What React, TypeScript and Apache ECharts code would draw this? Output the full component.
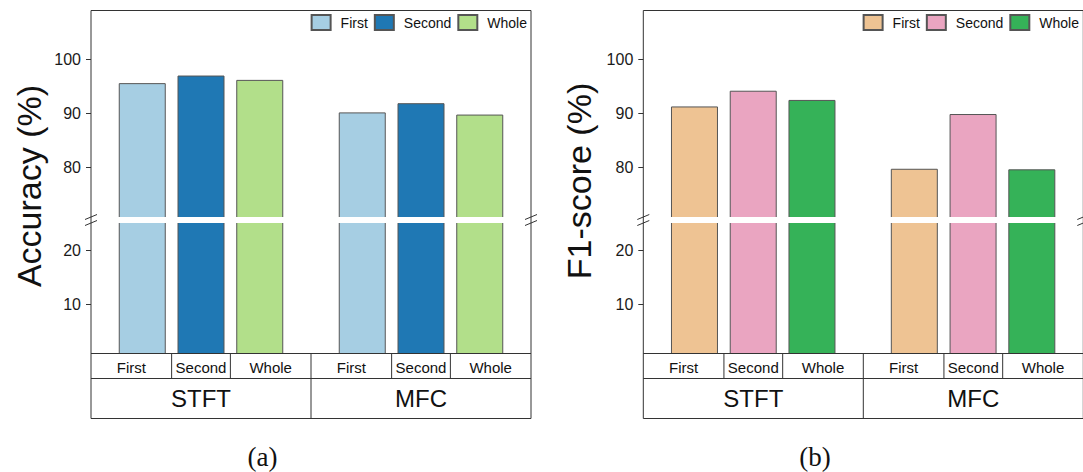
import { useEffect, useRef } from 'react';
import * as echarts from 'echarts';

const groups = ['STFT', 'MFC'];
const parts = ['First', 'Second', 'Whole'];
const accFirst = [95.6, 90.2];
const accSecond = [97.0, 91.9];
const accWhole = [96.2, 89.8];
const f1First = [91.3, 79.8];
const f1Second = [94.2, 89.9];
const f1Whole = [92.5, 79.7];
const upperTicks = [80, 90, 100];
const lowerTicks = [10, 20];
const upperRange = [70.35, 109];
const lowerRange = [1, 25.52];
const accColors = ['#a6cee3', '#1f78b4', '#b2df8a'];
const f1Colors = ['#eec393', '#eaa5c1', '#35b258'];

const FONT = 'Liberation Sans, Arial, Helvetica, sans-serif';
const SERIF = 'Liberation Serif, Times New Roman, serif';

type Panel = {
  width: number;
  plotLeft: number;
  title: string;
  titleX: number;
  titleY: number;
  label: string;
  labelX: number;
  values: number[][];
  colors: string[];
};

function buildOption(p: Panel) {
  const L = p.plotLeft;
  const W = 440;
  const T = 10.5;
  const UB = 217;
  const LT = 223;
  const MID = 220;
  const PB = 353.5;
  const R1 = 378.5;
  const TB = 418.5;
  const barWidth = 47;
  const gapPct = 25;
  const slot = barWidth * (1 + gapPct / 100);
  const catW = W / groups.length;
  const stroke = '#333';

  const axisLabel = (vals: number[]) => ({
    customValues: vals,
    fontSize: 16,
    color: '#1a1a1a',
    fontFamily: FONT,
    margin: 10,
  });
  const axisTick = (vals: number[]) => ({
    show: true,
    customValues: vals,
    length: 5,
    lineStyle: { color: stroke, width: 1 },
  });

  const series: any[] = [];
  [0, 1].forEach((gi) => {
    parts.forEach((name, j) => {
      series.push({
        type: 'bar',
        name,
        xAxisIndex: gi,
        yAxisIndex: gi,
        data: p.values[j],
        barWidth,
        barGap: gapPct + '%',
        clip: true,
        itemStyle: { color: p.colors[j], borderColor: '#555', borderWidth: 1 },
      });
    });
  });

  const line = (x1: number, y1: number, x2: number, y2: number, w = 1) => ({
    type: 'line',
    shape: { x1, y1, x2, y2 },
    style: { stroke, lineWidth: w },
    silent: true,
    z: 100,
  });
  const text = (t: string, x: number, y: number, size: number, family = FONT, extra: any = {}) => ({
    type: 'text',
    x,
    y,
    silent: true,
    z: 100,
    ...extra,
    style: {
      text: t,
      fontSize: size,
      fontFamily: family,
      fill: '#111',
      align: 'center',
      verticalAlign: 'middle',
      textAlign: 'center',
      textVerticalAlign: 'middle',
    },
  });

  const g: any[] = [];
  // white gap of the broken axis
  g.push({
    type: 'rect',
    shape: { x: L, y: UB, width: W, height: LT - UB },
    style: { fill: '#fff' },
    silent: true,
    z: 50,
  });
  // frame
  g.push(line(L, T, L + W, T));
  g.push(line(L, T, L, TB));
  g.push(line(L + W, T, L + W, TB));
  g.push(line(L, PB, L + W, PB));
  g.push(line(L, R1, L + W, R1));
  g.push(line(L, TB, L + W, TB));
  groups.forEach((grp, k) => {
    const c = L + catW * (k + 0.5);
    const a = c - slot / 2;
    const b = c + slot / 2;
    const s = L + catW * k;
    const e = L + catW * (k + 1);
    if (k > 0) g.push(line(s, PB, s, TB));
    g.push(line(a, PB, a, R1));
    g.push(line(b, PB, b, R1));
    const cells = [
      [s, a],
      [a, b],
      [b, e],
    ];
    parts.forEach((pt, j) => {
      g.push(text(pt, (cells[j][0] + cells[j][1]) / 2, (PB + R1) / 2 + 1, 15));
    });
    g.push(text(grp, c, (R1 + TB) / 2, 24));
  });
  // break marks
  [L, L + W].forEach((x) => {
    [UB, LT].forEach((y) => {
      g.push(line(x - 6, y + 2.5, x + 6, y - 2.5));
    });
  });
  g.push(text(p.title, p.titleX, p.titleY, 34, FONT, { rotation: Math.PI / 2 }));
  g.push(text(p.label, p.labelX, 457, 27, SERIF));

  return {
    animation: false,
    grid: [
      { left: L, top: T, width: W, height: MID - T },
      { left: L, top: MID, width: W, height: PB - MID },
    ],
    xAxis: [0, 1].map((i) => ({ type: 'category', gridIndex: i, data: groups, show: false })),
    yAxis: [
      {
        type: 'value',
        gridIndex: 0,
        min: upperRange[0],
        max: upperRange[1],
        axisLine: { show: false },
        splitLine: { show: false },
        axisTick: axisTick(upperTicks),
        axisLabel: axisLabel(upperTicks),
      },
      {
        type: 'value',
        gridIndex: 1,
        min: lowerRange[0],
        max: lowerRange[1],
        axisLine: { show: false },
        splitLine: { show: false },
        axisTick: axisTick(lowerTicks),
        axisLabel: axisLabel(lowerTicks),
      },
    ],
    legend: {
      data: parts,
      icon: 'rect',
      right: Math.max(0, p.width - (L + W)) + 4,
      top: 14,
      itemWidth: 19,
      itemHeight: 15,
      itemGap: 6,
      padding: 0,
      selectedMode: false,
      textStyle: { fontSize: 14, color: '#111', fontFamily: FONT, padding: [0, 0, 0, 5] },
    },
    series,
    graphic: { elements: g },
  };
}

const leftPanel: Panel = {
  width: 555,
  plotLeft: 91,
  title: 'Accuracy (%)',
  titleX: 29,
  titleY: 186,
  label: '(a)',
  labelX: 262.5,
  values: [accFirst, accSecond, accWhole],
  colors: accColors,
};

const rightPanel: Panel = {
  width: 528,
  plotLeft: 88.3,
  title: 'F1-score (%)',
  titleX: 24,
  titleY: 181,
  label: '(b)',
  labelX: 260,
  values: [f1First, f1Second, f1Whole],
  colors: f1Colors,
};

function ChartPanel({ panel, left }: { panel: Panel; left: number }) {
  const ref = useRef<HTMLDivElement>(null);
  useEffect(() => {
    if (!ref.current) return;
    const chart = echarts.init(ref.current, undefined, { renderer: 'svg' });
    chart.setOption(buildOption(panel) as any);
    return () => chart.dispose();
  }, [panel]);
  return (
    <div
      ref={ref}
      style={{ position: 'absolute', left, top: 0, width: panel.width, height: 472 }}
    />
  );
}

export default function App() {
  return (
    <div style={{ position: 'absolute', left: 0, top: 0, width: 1083, height: 472, background: '#fff', overflow: 'hidden' }}>
      <ChartPanel panel={leftPanel} left={0} />
      <ChartPanel panel={rightPanel} left={555} />
    </div>
  );
}
